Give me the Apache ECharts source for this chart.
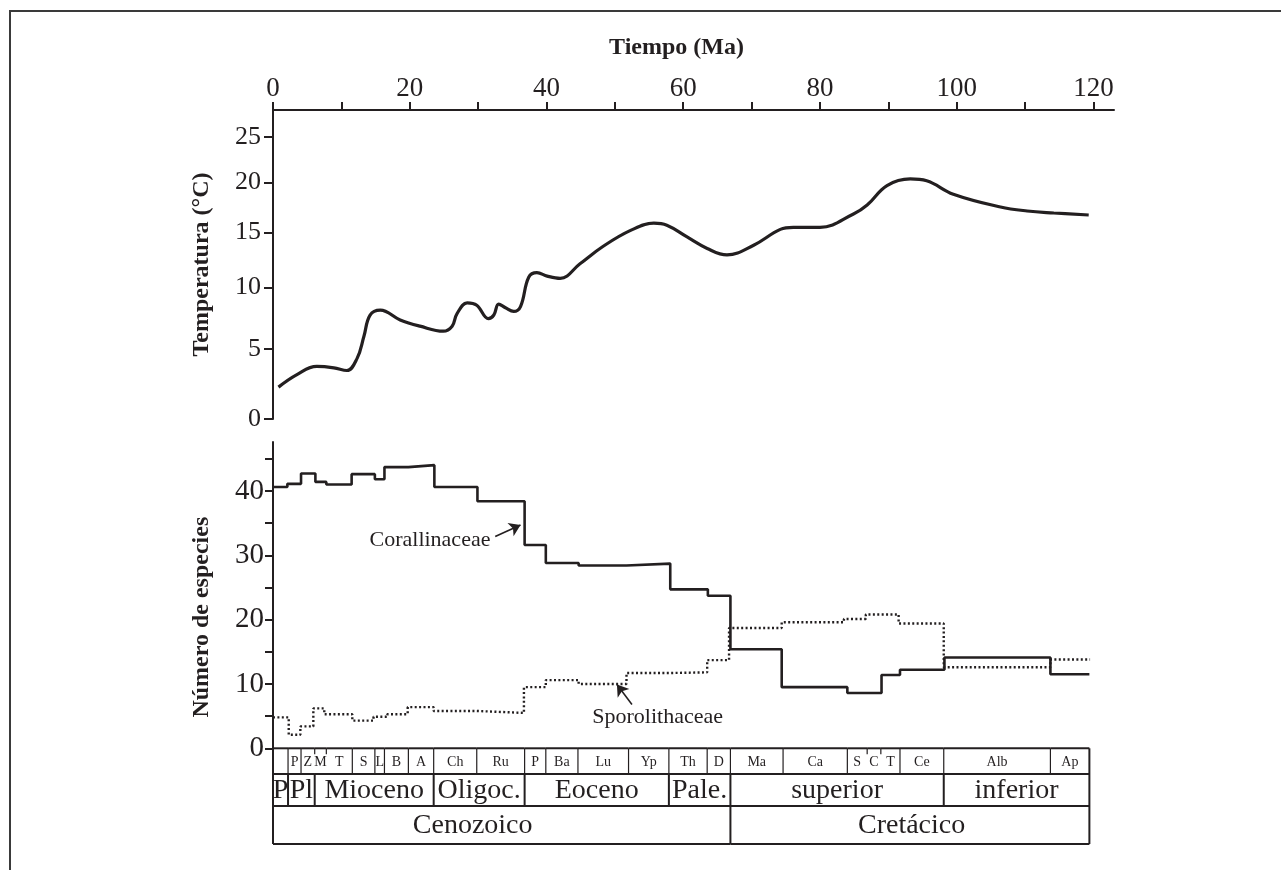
<!DOCTYPE html>
<html>
<head>
<meta charset="utf-8">
<title>Temperatura y número de especies</title>
<script src="https://cdn.jsdelivr.net/npm/echarts@6/dist/echarts.min.js"></script>
<style>
  html, body { margin: 0; padding: 0; background: #fff; }
  #frame { position: absolute; left: 9px; top: 10px; right: 0; bottom: 0; border-top: 2px solid #3a3a3a; border-left: 2px solid #3a3a3a; }
  #chart { position: absolute; left: 0; top: 0; width: 1281px; height: 870px; }
</style>
</head>
<body>
<div id="frame"></div>
<div id="chart"></div>
<script>
// curva de temperatura: edad (Ma) y temperatura (°C)
const tempAge = [0.8, 3.5, 6.4, 8.9, 10.8, 12.3, 13.3, 14.2, 15.7, 18.6, 21.5, 24.9, 26.2, 26.9, 28.4, 29.8,
  31.5, 32.3, 33.0, 34.0, 35.2, 36.2, 37.4, 38.6, 40.1, 42.0, 44.9, 48.3, 52.3, 55.7, 57.6, 60.5, 63.5,
  66.4, 70.3, 74.2, 76.1, 80.0, 84.9, 86.9, 89.8, 93.2, 95.6, 99.5, 106.4, 110.3, 114.2, 119.3];
const tempVal = [2.2, 3.1, 3.7, 3.6, 3.4, 4.3, 6.0, 7.7, 8.1, 7.3, 6.8, 6.4, 6.8, 7.8, 8.7, 8.5,
  7.4, 7.7, 8.6, 8.3, 8.0, 8.4, 10.9, 11.3, 11.0, 10.8, 12.1, 13.7, 15.2, 15.9, 15.7, 14.6, 13.5,
  12.9, 13.8, 15.3, 15.5, 15.5, 16.8, 17.7, 19.7, 20.4, 20.2, 18.8, 17.5, 17.1, 16.9, 16.7];

// número de especies por intervalo (límites en Ma, un valor por intervalo)
const coralBounds = [0, 2.1, 4.1, 6.2, 7.8, 11.5, 14.9, 16.3, 19.8, 23.6, 29.9, 36.8, 39.9, 44.7, 51.7,
  58.1, 63.6, 66.9, 74.4, 84.0, 89.0, 91.7, 98.2, 113.7, 119.4];
const coralCount = [40.6, 41.1, 42.7, 41.4, 41.0, 42.6, 41.8, 43.7, 44.0, 40.6, 38.4, 31.6, 28.8, 28.4,
  28.7, 24.7, 23.7, 15.4, 9.5, 8.6, 11.4, 12.2, 14.1, 11.5];
const sporoBounds = [0, 2.3, 4.0, 5.9, 7.5, 11.6, 14.7, 16.7, 19.7, 23.5, 29.8, 36.7, 39.9, 44.7, 51.7,
  57.9, 63.5, 66.7, 74.4, 83.5, 86.7, 91.5, 98.1, 113.7, 119.5];
const sporoCount = [4.8, 2.1, 3.4, 6.2, 5.3, 4.3, 4.9, 5.3, 6.4, 5.8, 5.5, 9.5, 10.6, 10.0, 11.7, 11.8,
  13.7, 18.7, 19.6, 20.1, 20.8, 19.4, 12.6, 13.8];

// tabla estratigráfica
const stageNames = ['', 'P', 'Z', 'M', 'T', 'S', 'L', 'B', 'A', 'Ch', 'Ru', 'P', 'Ba', 'Lu', 'Yp', 'Th', 'D',
  'Ma', 'Ca', 'S', 'C', 'T', 'Ce', 'Alb', 'Ap'];
const stageBounds = [0, 2.2, 4.1, 6.1, 7.8, 11.6, 14.9, 16.3, 19.8, 23.5, 29.8, 36.8, 39.9, 44.6, 52.0, 57.9,
  63.5, 66.9, 74.6, 84.0, 86.9, 88.9, 91.7, 98.1, 113.7, 119.4];
const stageShortTicks = [6.1, 7.8, 86.9, 88.9]; // límites marcados solo con una rayita arriba
const epochNames = ['P', 'Pl', 'Mioceno', 'Oligoc.', 'Eoceno', 'Pale.', 'superior', 'inferior'];
const epochBounds = [0, 2.2, 6.1, 23.5, 36.8, 57.9, 66.9, 98.1, 119.4];
const eraNames = ['Cenozoico', 'Cretácico'];
const eraBounds = [0, 66.9, 119.4];
const eraLabelAge = [29.2, 93.4]; // el rótulo "Cenozoico" no está centrado en su casilla

// etiquetas de los ejes
const timeTicks = [0, 20, 40, 60, 80, 100, 120];
const timeMinor = [0, 10, 20, 30, 40, 50, 60, 70, 80, 90, 100, 110, 120];
const tempTicks = [0, 5, 10, 15, 20, 25];
const countTicks = [0, 10, 20, 30, 40];
const countMinor = [0, 5, 10, 15, 20, 25, 30, 35, 40, 45];

// anotaciones: [texto, Ma, valor, alineación] y flechas [desde, hasta]
const notes = [['Corallinaceae', 31.8, 32.4, 'right'], ['Sporolithaceae', 46.7, 4.9, 'left']];
const coralArrow = [[32.5, 32.9], [36.2, 34.7]];
const sporoArrow = [[52.5, 6.8], [50.3, 9.9]];

// la escala de temperatura del original no es lineal (se comprime hacia lo cálido):
// se aproxima con un eje logarítmico sobre (T + 35)
const TEMP_SHIFT = 35;

const ink = '#231f20';
const serif = 'Liberation Serif';

function steps(bounds, vals) {
  const pts = vals.map((v, i) => [bounds[i], v]);
  pts.push([bounds[bounds.length - 1], vals[vals.length - 1]]);
  return pts;
}

function cells(names, bounds) {
  return names.map((n, i) => [bounds[i], bounds[i + 1]]);
}

function cellRenderer(names, fontSize, sepWidth, shortTicks, labelAt) {
  return function (params, api) {
    const a = api.coord([api.value(0), 1]);
    const b = api.coord([api.value(1), 0]);
    const x0 = a[0], top = a[1], x1 = b[0], bot = b[1];
    const i = params.dataIndex;
    const isShort = shortTicks.indexOf(api.value(0)) >= 0;
    const tx = labelAt ? api.coord([labelAt[i], 0])[0] : (x0 + x1) / 2;
    const children = [
      { type: 'line', shape: { x1: x0, y1: top, x2: x1, y2: top }, style: { stroke: ink, lineWidth: 2 } },
      { type: 'line', shape: { x1: x0, y1: bot, x2: x1, y2: bot }, style: { stroke: ink, lineWidth: 2 } },
      { type: 'line', shape: { x1: x0, y1: top, x2: x0, y2: isShort ? top + 6 : bot },
        style: { stroke: ink, lineWidth: i === 0 ? 2 : sepWidth } },
      { type: 'text', style: { x: tx, y: (top + bot) / 2 + 1, text: names[i],
        align: 'center', verticalAlign: 'middle', fill: ink, fontFamily: serif, fontSize: fontSize } }
    ];
    if (i === names.length - 1) {
      children.push({ type: 'line', shape: { x1: x1, y1: top, x2: x1, y2: bot }, style: { stroke: ink, lineWidth: 2 } });
    }
    return { type: 'group', children: children };
  };
}

const chart = echarts.init(document.getElementById('chart'));

const hiddenX = i => ({ type: 'value', gridIndex: i, min: 0, max: 123, show: false });
const hiddenY = i => ({ type: 'value', gridIndex: i, min: 0, max: 1, show: false });
const axisLine = { show: true, lineStyle: { color: ink, width: 2 } };
const nameStyle = { fontFamily: serif, fontSize: 24, fontWeight: 'bold', color: ink };

const option = {
  animation: false,
  backgroundColor: 'transparent',
  grid: [
    { left: 273, top: 110, width: 841, height: 309, outerBoundsMode: 'none' },
    { left: 273, top: 442, width: 841, height: 306.3, outerBoundsMode: 'none' },
    { left: 273, top: 748.3, width: 841, height: 25.7, outerBoundsMode: 'none' },
    { left: 273, top: 774, width: 841, height: 32, outerBoundsMode: 'none' },
    { left: 273, top: 806, width: 841, height: 38, outerBoundsMode: 'none' }
  ],
  xAxis: [
    {
      type: 'value', gridIndex: 0, position: 'top', min: 0, max: 123,
      name: 'Tiempo (Ma)', nameLocation: 'middle', nameGap: 50,
      nameTextStyle: Object.assign({}, nameStyle, { padding: [0, 34, 0, 0] }),
      axisLine: axisLine,
      axisTick: { show: true, length: 8, customValues: timeMinor, lineStyle: { color: ink, width: 2 } },
      axisLabel: { customValues: timeTicks, margin: 8, fontFamily: serif, fontSize: 27, color: ink },
      splitLine: { show: false }
    },
    hiddenX(1), hiddenX(2), hiddenX(3), hiddenX(4)
  ],
  yAxis: [
    {
      type: 'log', gridIndex: 0, min: TEMP_SHIFT, max: TEMP_SHIFT + 28.2,
      name: 'Temperatura (°C)', nameLocation: 'middle', nameGap: 59,
      nameTextStyle: nameStyle,
      axisLine: axisLine,
      axisTick: { show: true, length: 9, customValues: tempTicks.map(t => t + TEMP_SHIFT), lineStyle: { color: ink, width: 2 } },
      axisLabel: { customValues: tempTicks.map(t => t + TEMP_SHIFT), formatter: v => String(Math.round(v - TEMP_SHIFT)),
        margin: 12, fontFamily: serif, fontSize: 26, color: ink },
      splitLine: { show: false }
    },
    {
      type: 'value', gridIndex: 1, min: 0, max: 47.6,
      name: 'Número de especies', nameLocation: 'middle', nameGap: 59,
      nameTextStyle: Object.assign({}, nameStyle, { padding: [0, 44, 0, 0] }),
      axisLine: axisLine,
      axisTick: { show: true, length: 8, customValues: countMinor, lineStyle: { color: ink, width: 2 } },
      axisLabel: { customValues: countTicks, margin: 9, fontFamily: serif, fontSize: 29, color: ink },
      splitLine: { show: false }
    },
    hiddenY(2), hiddenY(3), hiddenY(4)
  ],
  series: [
    {
      name: 'Temperatura', type: 'line', xAxisIndex: 0, yAxisIndex: 0,
      data: tempAge.map((a, i) => [a, tempVal[i] + TEMP_SHIFT]),
      smooth: 0.4, symbol: 'none', silent: true,
      lineStyle: { color: ink, width: 3.2 }
    },
    {
      name: 'Corallinaceae', type: 'line', xAxisIndex: 1, yAxisIndex: 1,
      data: steps(coralBounds, coralCount), step: 'end', symbol: 'none', silent: true,
      lineStyle: { color: ink, width: 2.6 },
      markLine: {
        silent: true, symbol: ['none', 'arrow'], symbolSize: 11, label: { show: false },
        lineStyle: { color: ink, width: 1.6, type: 'solid' },
        data: [[{ coord: coralArrow[0] }, { coord: coralArrow[1] }]]
      }
    },
    {
      name: 'Sporolithaceae', type: 'line', xAxisIndex: 1, yAxisIndex: 1,
      data: steps(sporoBounds, sporoCount), step: 'end', symbol: 'none', silent: true,
      lineStyle: { color: ink, width: 2.4, type: [2, 2.4] },
      markLine: {
        silent: true, symbol: ['none', 'arrow'], symbolSize: 11, label: { show: false },
        lineStyle: { color: ink, width: 1.6, type: 'solid' },
        data: [[{ coord: sporoArrow[0] }, { coord: sporoArrow[1] }]]
      }
    },
    {
      name: 'notas', type: 'scatter', xAxisIndex: 1, yAxisIndex: 1, symbolSize: 0, silent: true,
      itemStyle: { opacity: 1 },
      data: notes.map(n => ({
        value: [n[1], n[2]],
        label: { show: true, position: 'inside', formatter: n[0], align: n[3], verticalAlign: 'middle',
          fontFamily: serif, fontSize: 22, color: ink, opacity: 1 }
      }))
    },
    {
      type: 'custom', xAxisIndex: 2, yAxisIndex: 2, silent: true, clip: false,
      encode: { x: [0, 1] }, data: cells(stageNames, stageBounds),
      renderItem: cellRenderer(stageNames, 14, 1.2, stageShortTicks, null)
    },
    {
      type: 'custom', xAxisIndex: 3, yAxisIndex: 3, silent: true, clip: false,
      encode: { x: [0, 1] }, data: cells(epochNames, epochBounds),
      renderItem: cellRenderer(epochNames, 28, 2, [], null)
    },
    {
      type: 'custom', xAxisIndex: 4, yAxisIndex: 4, silent: true, clip: false,
      encode: { x: [0, 1] }, data: cells(eraNames, eraBounds),
      renderItem: cellRenderer(eraNames, 28, 2, [], eraLabelAge)
    }
  ]
};

chart.setOption(option);
window.addEventListener('resize', () => chart.resize());
</script>
</body>
</html>
